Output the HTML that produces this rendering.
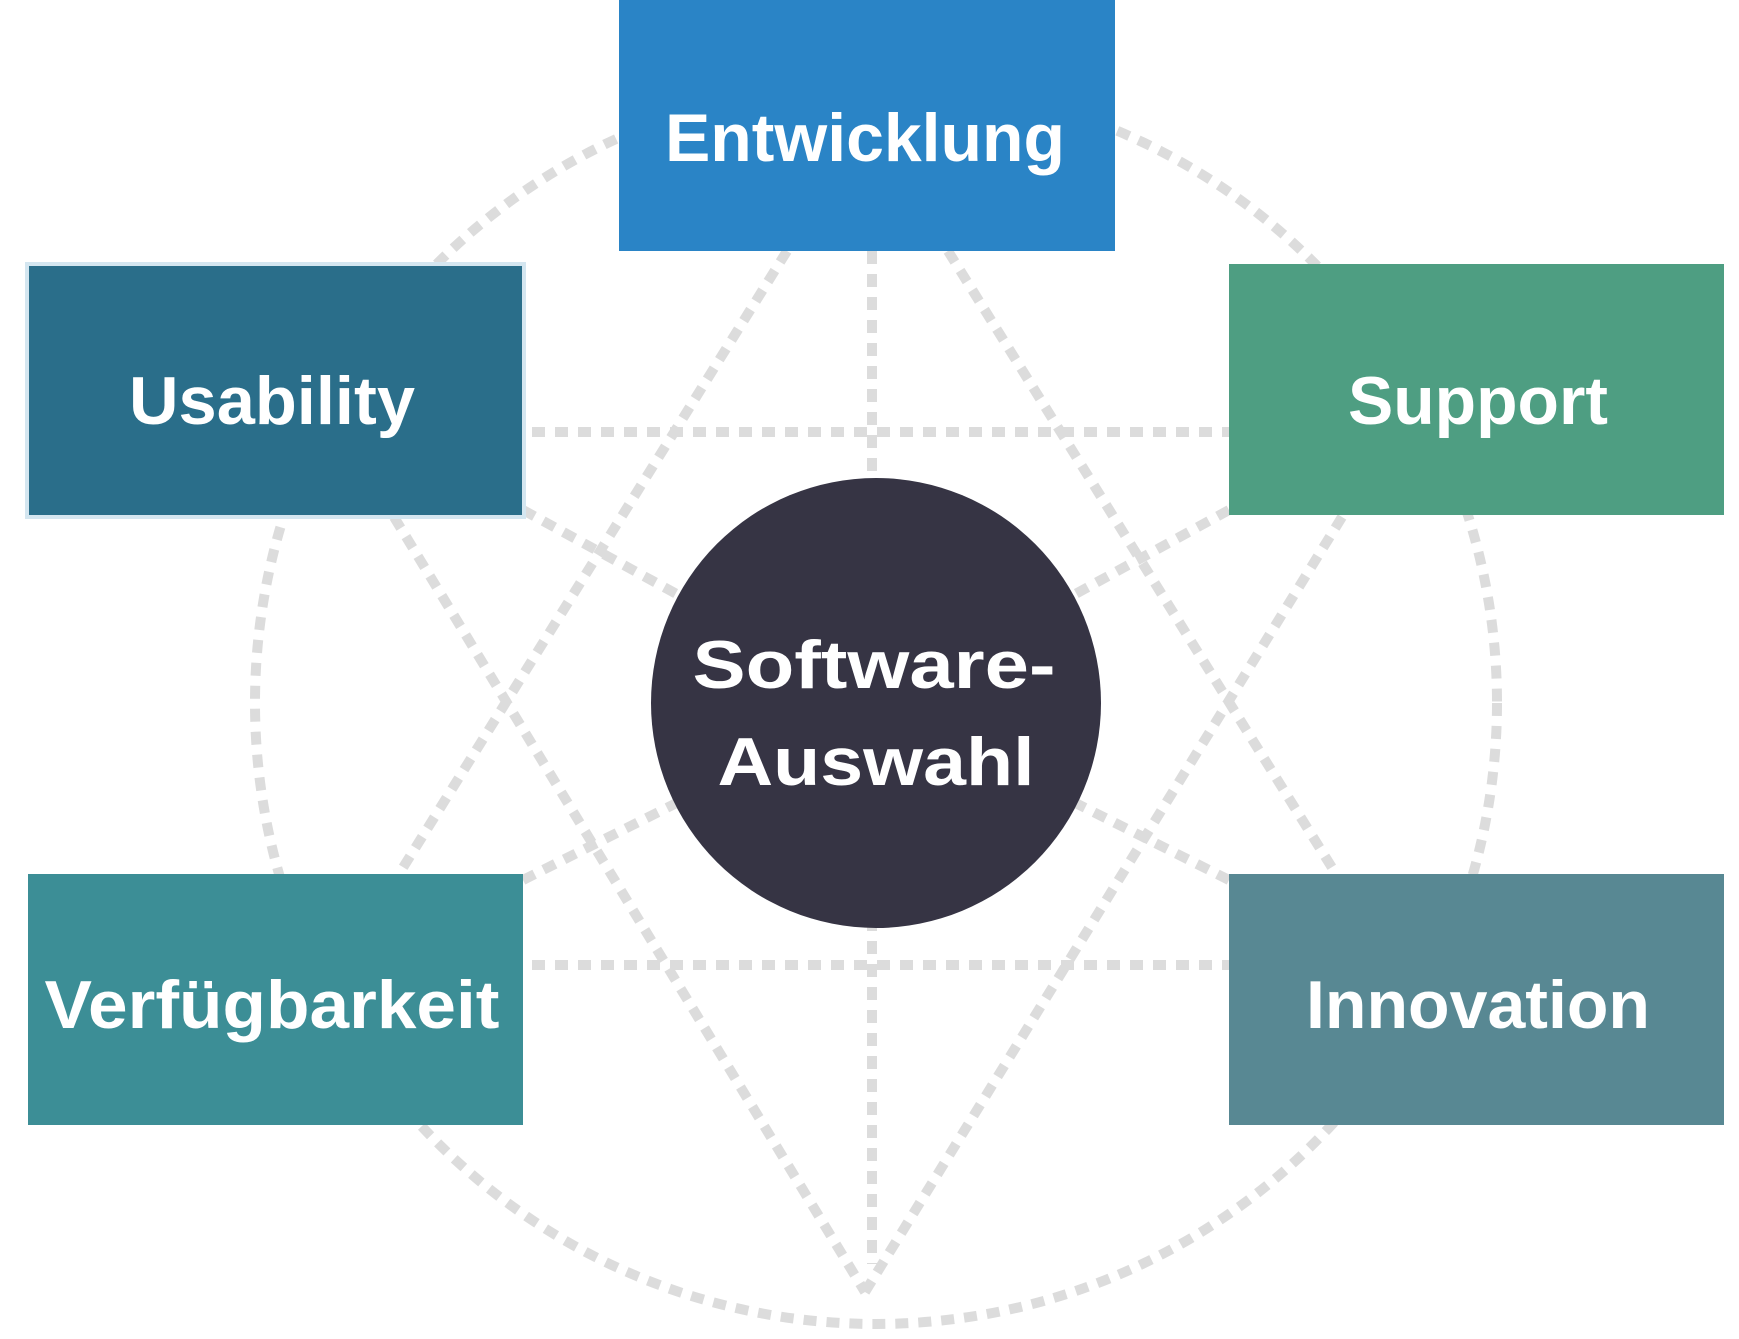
<!DOCTYPE html>
<html><head><meta charset="utf-8"><style>html,body{margin:0;padding:0;background:#fff}</style></head>
<body>
<svg width="1739" height="1334" viewBox="0 0 1739 1334" xmlns="http://www.w3.org/2000/svg">
<g fill="none" stroke="#dcdcdc" stroke-width="10" stroke-dasharray="13 10">
<circle cx="876" cy="703" r="621"/>
<line x1="532" y1="432" x2="1229" y2="432"/>
<line x1="532" y1="965" x2="1229" y2="965"/>
<line x1="872" y1="251" x2="872" y2="1264"/>
<line x1="787" y1="251" x2="399" y2="874"/>
<line x1="948" y1="251" x2="1336" y2="874"/>
<line x1="394" y1="517" x2="865" y2="1292"/>
<line x1="1342" y1="517" x2="865" y2="1292"/>
<line x1="523" y1="510" x2="876" y2="703"/>
<line x1="1229" y1="510" x2="876" y2="703"/>
<line x1="523" y1="880" x2="876" y2="703"/>
<line x1="1229" y1="880" x2="876" y2="703"/>
</g>
<rect x="619" y="0" width="496" height="251" fill="#2a84c6"/>
<rect x="27" y="264" width="497" height="253" fill="#2a6e8a" stroke="#d4e6f0" stroke-width="4"/>
<rect x="1229" y="264" width="495" height="251" fill="#4e9e82"/>
<rect x="28" y="874" width="495" height="251" fill="#3c8e96"/>
<rect x="1229" y="874" width="495" height="251" fill="#588893"/>
<circle cx="876" cy="703" r="225" fill="#363444"/>
<g fill="#fff" font-family="Liberation Sans, sans-serif" font-weight="bold" font-size="68" text-anchor="middle">
<text x="865" y="161" textLength="400" lengthAdjust="spacingAndGlyphs">Entwicklung</text>
<text x="272" y="424" textLength="286" lengthAdjust="spacingAndGlyphs">Usability</text>
<text x="1478" y="424" textLength="260" lengthAdjust="spacingAndGlyphs">Support</text>
<text x="272" y="1028" textLength="455" lengthAdjust="spacingAndGlyphs">Verfügbarkeit</text>
<text x="1478" y="1028" textLength="344" lengthAdjust="spacingAndGlyphs">Innovation</text>
<text x="874" y="688" textLength="363" lengthAdjust="spacingAndGlyphs">Software-</text>
<text x="876" y="785" textLength="317" lengthAdjust="spacingAndGlyphs">Auswahl</text>
</g>
</svg>
</body></html>
